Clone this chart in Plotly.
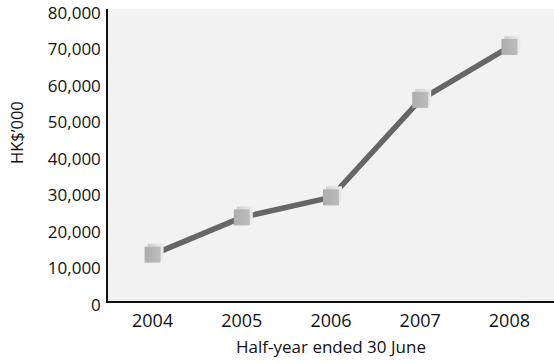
import plotly.graph_objects as go

# Half-year revenue, HK$'000
years = ["2004", "2005", "2006", "2007", "2008"]
values = [12700, 22900, 28400, 55100, 69600]
y_ticks = [0, 10000, 20000, 30000, 40000, 50000, 60000, 70000, 80000]
y_ticktext = ["0", "10,000", "20,000", "30,000", "40,000", "50,000", "60,000", "70,000", "80,000"]

W, H = 554, 363
M_L, M_R, M_T, M_B = 108, 0, 9, 62
X_RANGE = [-0.5, len(years) - 0.5]
Y_RANGE = [0, 80000.5]

# pixel -> data-unit conversion, used to give the cube markers a depth face
px_x = (X_RANGE[1] - X_RANGE[0]) / (W - M_L - M_R)
px_y = (Y_RANGE[1] - Y_RANGE[0]) / (H - M_T - M_B)
DEPTH = 3

xs = list(range(len(years)))

fig = go.Figure()

# connecting line
fig.add_trace(go.Scatter(
    x=xs, y=values, mode="lines",
    line=dict(color="#666666", width=5.5),
    hoverinfo="skip", showlegend=False,
))

# cube depth (top/right faces), drawn behind the front face
fig.add_trace(go.Scatter(
    x=[x + DEPTH * px_x for x in xs],
    y=[v + DEPTH * px_y for v in values],
    mode="markers",
    marker=dict(symbol="square", size=16, color="#cfcfcf",
                gradient=dict(type="horizontal", color="#ececec"),
                line=dict(width=0)),
    hoverinfo="skip", showlegend=False,
))

# cube front face
fig.add_trace(go.Scatter(
    x=xs, y=values, mode="markers",
    marker=dict(symbol="square", size=16, color="#adadad",
                gradient=dict(type="horizontal", color="#bcbcbc"),
                line=dict(width=0)),
    showlegend=False,
))

fig.update_layout(
    width=W, height=H,
    margin=dict(l=M_L, r=M_R, t=M_T, b=M_B, pad=0),
    paper_bgcolor="white",
    plot_bgcolor="#f2f2f2",
    font=dict(family="Open Sans", color="#111111"),
    xaxis=dict(
        range=X_RANGE,
        tickvals=xs, ticktext=years,
        showgrid=False, zeroline=False,
        showline=True, linecolor="#111111", linewidth=1.5,
        ticks="", ticklabelstandoff=3,
        tickfont=dict(family="Open Sans", size=18, color="#111111"),
        title=dict(text="Half-year ended 30 June", standoff=10,
                   font=dict(family="Open Sans", size=17, color="#111111")),
        fixedrange=True,
    ),
    yaxis=dict(
        range=Y_RANGE,
        tickvals=y_ticks, ticktext=y_ticktext,
        showgrid=False, zeroline=False,
        showline=True, linecolor="#111111", linewidth=1.5,
        ticks="", ticklabelstandoff=2, ticklabelshift=4,
        ticklabeloverflow="allow",
        tickfont=dict(family="Open Sans", size=17, color="#111111"),
        fixedrange=True,
    ),
    annotations=[dict(
        text="HK$\u2019000", textangle=-90,
        xref="paper", yref="paper", x=0, y=(H - M_B - 133) / (H - M_T - M_B),
        xanchor="center", yanchor="middle", xshift=16 - M_L,
        showarrow=False,
        font=dict(family="Open Sans", size=16.5, color="#111111"),
    )],
)

fig.write_html("out.html")
